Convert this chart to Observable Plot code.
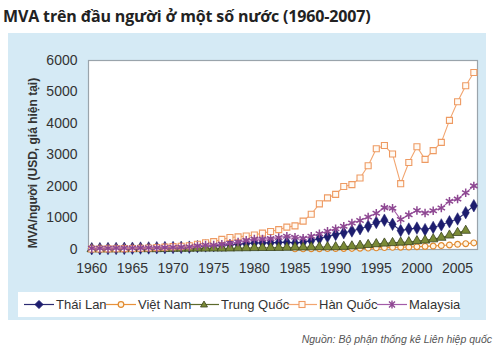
<!DOCTYPE html>
<html><head><meta charset="utf-8">
<script src="https://cdn.jsdelivr.net/npm/d3@7"></script>
<script src="https://cdn.jsdelivr.net/npm/@observablehq/plot@0.6"></script>
<style>
body{margin:0;width:500px;height:354px;background:#fff;position:relative;overflow:hidden;font-family:"Liberation Sans",Arial,sans-serif}
#title{position:absolute;left:3px;top:5px;font-family:"Open Sans",sans-serif;font-weight:700;font-size:16px;color:#222;white-space:nowrap;letter-spacing:-0.15px}
#panel{position:absolute;left:8px;top:33px;width:478px;height:287px;background:#d5eaf5}
#chart{position:absolute;left:0;top:0}
#chart svg{overflow:visible}
#legend{position:absolute;left:10px;top:259px;width:442px;height:25px;background:#fff;font-size:13px;color:#333}
.item{position:absolute;top:0;height:25px;display:flex;align-items:center;white-space:nowrap}
.item svg{margin-right:2px}
#caption{position:absolute;right:8px;top:333px;font-style:italic;font-size:10.5px;color:#555;white-space:nowrap}
</style></head>
<body>
<div id="title">MVA trên đầu người ở một số nước (1960-2007)</div>
<div id="panel"><div id="chart"></div><div id="legend"></div></div>
<div id="caption">Nguồn: Bộ phận thống kê Liên hiệp quốc</div>
<script>
const years = [1960,1961,1962,1963,1964,1965,1966,1967,1968,1969,1970,1971,1972,1973,1974,1975,1976,1977,1978,1979,1980,1981,1982,1983,1984,1985,1986,1987,1988,1989,1990,1991,1992,1993,1994,1995,1996,1997,1998,1999,2000,2001,2002,2003,2004,2005,2006,2007];
const xTicks = [1960,1965,1970,1975,1980,1985,1990,1995,2000,2005];
const yTicks = [0,1000,2000,3000,4000,5000,6000];
const seriesNames = ["Thái Lan","Việt Nam","Trung Quốc","Hàn Quốc","Malaysia"];
const thaiLan  = [25,27,30,33,36,40,45,50,55,60,65,68,75,95,115,120,135,150,170,185,205,210,210,225,230,210,230,280,350,410,480,530,590,660,740,860,930,800,600,650,680,630,700,780,880,970,1170,1390];
const vietNam  = [null,null,null,null,null,null,null,null,null,null,null,null,null,null,null,null,null,null,null,null,null,null,null,null,null,20,20,22,25,28,30,32,35,40,45,52,60,68,72,78,88,98,110,125,145,165,185,210];
const trungQuoc= [15,12,12,13,15,18,20,18,18,22,28,30,32,35,35,38,36,40,45,48,52,55,55,58,62,70,72,76,80,78,80,90,105,125,150,175,195,210,225,240,270,290,330,380,450,530,600,null];
const hanQuoc  = [15,16,20,25,28,32,40,48,60,75,90,105,120,165,215,250,320,380,400,430,460,520,570,630,710,750,900,1120,1450,1640,1750,2000,2060,2270,2660,3200,3300,3030,2090,2760,3260,2860,3140,3400,4100,4690,5200,5620];
const malaysia = [40,40,42,45,48,50,52,55,58,62,70,75,85,115,145,140,170,200,240,290,330,330,345,380,420,390,360,420,500,580,660,740,840,920,1030,1150,1330,1310,950,1100,1240,1160,1230,1320,1530,1600,1800,2020];
const yLabel = "MVA/người (USD, giá hiện tại)";

const styles = [
  {line:"#2b2a72", symbol:"diamond", fill:"#1d1d6e", stroke:"#1d1d6e", r:3.8, sw:0.5},
  {line:"#e8913a", symbol:"circle", fill:"#fff6e6", stroke:"#e08a30", r:2.9, sw:1.2},
  {line:"#5c6a2c", symbol:"triangle", fill:"#7a8a36", stroke:"#3b4420", r:3.5, sw:0.8},
  {line:"#f2a56f", symbol:"square", fill:"#fffaf4", stroke:"#ee9a62", r:3.4, sw:1.1},
  {line:"#a35ba8", symbol:"asterisk", fill:"none", stroke:"#8e4892", r:4, sw:1.5}
];
const allSeries = [thaiLan, vietNam, trungQuoc, hanQuoc, malaysia];
const tables = allSeries.map((vals,i)=>years.map((y,j)=>({year:y, value:vals[j], name:seriesNames[i]})).filter(d=>d.value!=null));

const marks = [Plot.frame({fill:"white", stroke:"#9aa4ab", strokeWidth:1.2})];
tables.forEach((t,i)=>{
  const s = styles[i];
  marks.push(Plot.line(t,{x:"year", y:"value", stroke:s.line, strokeWidth:1.1}));
  marks.push(Plot.dot(t,{x:"year", y:"value", symbol:()=>s.symbol, r:s.r, fill:s.fill, stroke:s.stroke, strokeWidth:s.sw}));
});
marks.push(Plot.axisX({ticks:xTicks, tickSize:0, tickPadding:14, tickFormat:d=>String(d), fontSize:14, fill:"#333", label:null}));
marks.push(Plot.axisY({ticks:yTicks, tickSize:0, tickPadding:11, tickFormat:d=>String(d), fontSize:14, fill:"#333", label:null}));
marks.push(Plot.text([yLabel],{text:d=>d, frameAnchor:"left", textAnchor:"middle", rotate:-90, dx:-55, dy:8, fontSize:12, fontWeight:"bold", fill:"#333"}));

const chart = Plot.plot({
  width:478, height:257,
  marginLeft:80, marginRight:9, marginTop:27, marginBottom:41,
  style:{background:"transparent", fontFamily:"Liberation Sans, Arial, sans-serif", color:"#333", overflow:"visible"},
  x:{domain:[1959.6,2007.45]},
  y:{domain:[0,6000]},
  symbol:{type:"identity"},
  marks
});
document.getElementById("chart").appendChild(chart);

// legend
const legendX = [6, 88, 171, 269, 359];
const swatch = (s)=>{
  let m="";
  if(s.symbol==="diamond") m=`<path d="M15,7.5L19,11.5L15,15.5L11,11.5Z" fill="${s.fill}" stroke="${s.stroke}"/>`;
  else if(s.symbol==="circle") m=`<circle cx="15" cy="11.5" r="2.8" fill="${s.fill}" stroke="${s.stroke}" stroke-width="1.2"/>`;
  else if(s.symbol==="triangle") m=`<path d="M15,8L18.5,14L11.5,14Z" fill="${s.fill}" stroke="${s.stroke}" stroke-width="0.8"/>`;
  else if(s.symbol==="square") m=`<rect x="12" y="8.5" width="6" height="6" fill="${s.fill}" stroke="${s.stroke}" stroke-width="1.1"/>`;
  else m=`<path d="M12,8.5L18,14.5M18,8.5L12,14.5M15,7.5L15,15.5" stroke="${s.stroke}" stroke-width="1.4"/>`;
  return `<svg width="30" height="23"><line x1="0" x2="30" y1="11.5" y2="11.5" stroke="${s.line}" stroke-width="1.2"/>${m}</svg>`;
};
const leg = document.getElementById("legend");
seriesNames.forEach((n,i)=>{
  const d = document.createElement("div");
  d.className="item"; d.style.left=legendX[i]+"px";
  d.innerHTML = swatch(styles[i]) + `<span>${n}</span>`;
  leg.appendChild(d);
});
</script>
</body></html>
